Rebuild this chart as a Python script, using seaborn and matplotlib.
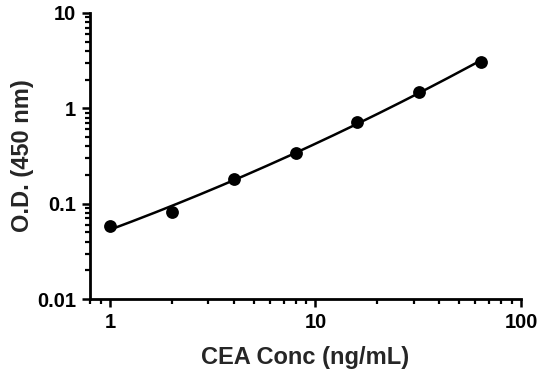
import numpy as np
import pandas as pd
import matplotlib
matplotlib.use("Agg")
import matplotlib.pyplot as plt
import matplotlib.ticker as mticker
import seaborn as sns

conc = [1, 2, 4, 8, 16, 32, 64]
od = [0.058, 0.082, 0.18, 0.343, 0.72, 1.50, 3.07]
x_ticks = [1, 10, 100]
x_tick_labels = ["1", "10", "100"]
y_ticks = [0.01, 0.1, 1, 10]
y_tick_labels = ["0.01", "0.1", "1", "10"]

sns.set_theme(style="ticks")
plt.rcParams['font.family'] = ['Liberation Sans', 'DejaVu Sans']
plt.rcParams['font.weight'] = 'bold'

df = pd.DataFrame({"conc": conc, "od": od})

# Smooth fitted curve (quadratic in log-log space, fit from the data)
coef = np.polyfit(np.log10(df["conc"]), np.log10(df["od"]), 2)
xf = np.logspace(np.log10(min(conc)), np.log10(max(conc)), 200)
fit = pd.DataFrame({"conc": xf, "od": 10 ** np.polyval(coef, np.log10(xf))})

fig = plt.figure(figsize=(5.58, 3.79), dpi=100)
ax = fig.add_axes([0.1613, 0.211, 0.7724, 0.7547])

sns.lineplot(data=fit, x="conc", y="od", ax=ax, color="black", linewidth=1.8)
sns.scatterplot(data=df, x="conc", y="od", ax=ax, color="black", s=85,
                edgecolor="black", linewidth=0, zorder=5)

ax.set_xscale("log")
ax.set_yscale("log")
ax.set_xlim(0.8, 100)
ax.set_ylim(0.01, 10)
ax.set_xticks(x_ticks)
ax.set_xticklabels(x_tick_labels)
ax.set_yticks(y_ticks)
ax.set_yticklabels(y_tick_labels)
ax.xaxis.set_minor_locator(mticker.LogLocator(base=10, subs=np.arange(2, 10)))
ax.yaxis.set_minor_locator(mticker.LogLocator(base=10, subs=np.arange(2, 10)))
ax.xaxis.set_minor_formatter(mticker.NullFormatter())
ax.yaxis.set_minor_formatter(mticker.NullFormatter())

for s in ["top", "right"]:
    ax.spines[s].set_visible(False)
for s in ["left", "bottom"]:
    ax.spines[s].set_linewidth(2.0)
    ax.spines[s].set_color("black")

ax.tick_params(which="major", length=6, width=1.8, color="black", labelsize=14.5,
               labelcolor="black", pad=4)
ax.tick_params(which="minor", length=3.5, width=1.6, color="black")
for lab in ax.get_xticklabels() + ax.get_yticklabels():
    lab.set_fontweight("bold")

ax.set_xlabel("CEA Conc (ng/mL)", fontsize=17, fontweight="bold", labelpad=10)
ax.set_ylabel("O.D. (450 nm)", fontsize=17, fontweight="bold", labelpad=2)

fig.savefig("out.png", dpi=100)
